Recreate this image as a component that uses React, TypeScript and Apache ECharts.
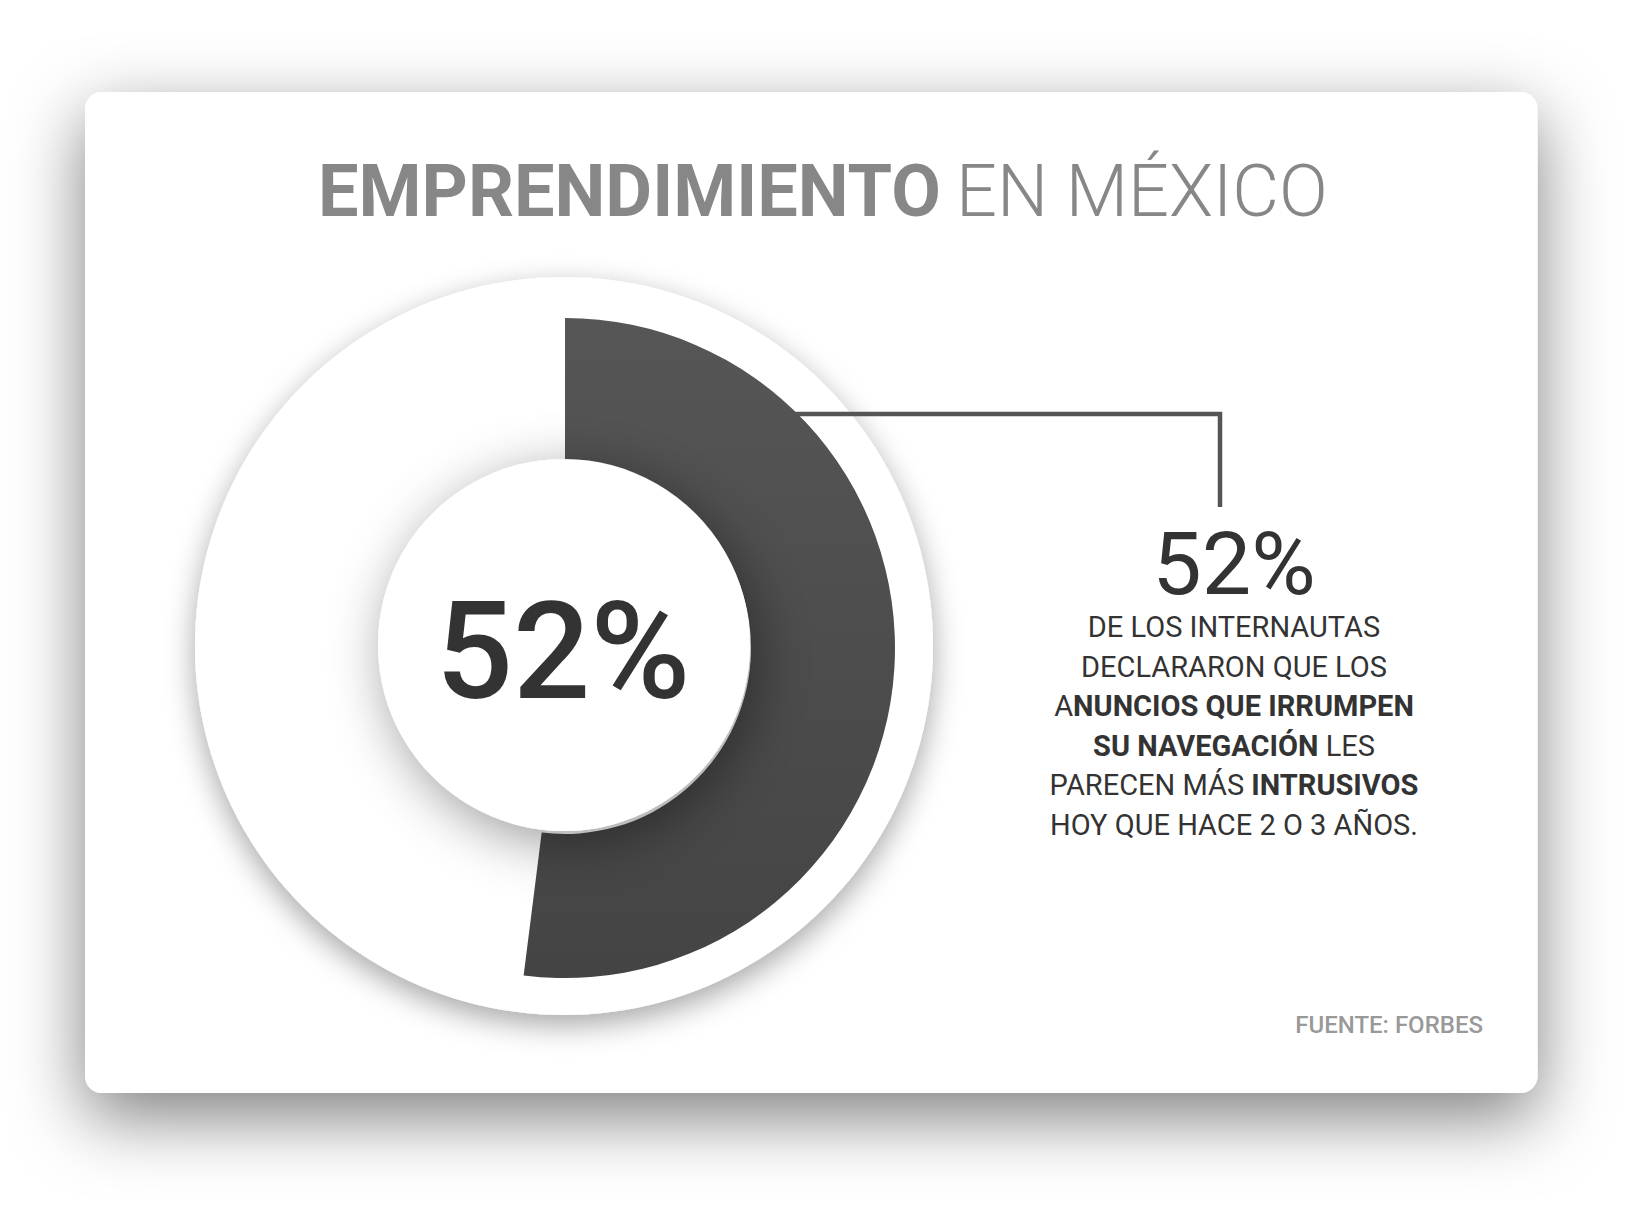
import React, { useEffect, useRef } from "react";
import * as echarts from "echarts";

// ---- data ----
const shareNames = ["Anuncios intrusivos", "Resto"];
const shareValues = [52, 48];
const titleBold = "EMPRENDIMIENTO";
const titleLight = "EN MÉXICO";
const calloutValue = `${shareValues[0]}%`;
const bodyLines: [string, "r" | "b"][][] = [
  [["DE LOS INTERNAUTAS", "r"]],
  [["DECLARARON QUE LOS", "r"]],
  [["A", "r"], ["NUNCIOS QUE IRRUMPEN", "b"]],
  [["SU NAVEGACIÓN", "b"], [" LES", "r"]],
  [["PARECEN MÁS ", "r"], ["INTRUSIVOS", "b"]],
  [["HOY QUE HACE 2 O 3 AÑOS.", "r"]],
];
const sourceText = "FUENTE: FORBES";

const W = 1632;
const H = 1211;
const FONT = "Roboto, 'Noto Sans', sans-serif";

export default function App() {
  const ref = useRef<HTMLDivElement>(null);

  useEffect(() => {
    document.body.style.margin = "0";
    const chart = echarts.init(ref.current!, null, { renderer: "svg" });

    const cx = 565;
    const cy = 647;
    const outerDisc = 369;
    const ringOuter = 330;
    const ringInner = 186;

    const lineY = 414;
    const lineStartX = cx + Math.sqrt(ringOuter * ringOuter - (cy - lineY) * (cy - lineY)) - 4;
    const lineEndX = 1220;
    const lineBottom = 507;

    const textX = 1234;
    const bodyTop = 627;
    const bodyStep = 39.6;

    const bodyRich = {
      r: { fontFamily: FONT, fontSize: 29, lineHeight: 30, fontWeight: 400, fill: "#333" },
      b: { fontFamily: FONT, fontSize: 29, lineHeight: 30, fontWeight: 700, fill: "#333" },
    };

    const graphic: any[] = [
      {
        type: "rect",
        z: 0,
        shape: { x: 85, y: 92, width: 1452.5, height: 1001, r: 17 },
        style: {
          fill: "#fff",
          shadowBlur: 70,
          shadowOffsetY: 24,
          shadowColor: "rgba(0,0,0,0.5)",
        },
        silent: true,
      },
      {
        type: "text",
        z: 20,
        x: 318,
        y: 191,
        style: {
          text: titleBold,
          align: "left",
          verticalAlign: "middle",
          fontFamily: FONT,
          fontSize: 72,
          fontWeight: 700,
          fill: "#878787",
        },
      },
      {
        type: "text",
        z: 20,
        x: 956,
        y: 191,
        style: {
          text: titleLight,
          align: "left",
          verticalAlign: "middle",
          fontFamily: FONT,
          fontSize: 72,
          fontWeight: 300,
          fill: "#878787",
        },
      },
      {
        type: "text",
        z: 20,
        x: cx - 2,
        y: 651,
        style: {
          text: calloutValue,
          align: "center",
          verticalAlign: "middle",
          fontFamily: FONT,
          fontSize: 136,
          fontWeight: 500,
          fill: "#333",
        },
      },
      {
        type: "polyline",
        z: 20,
        shape: {
          points: [
            [lineStartX, lineY],
            [lineEndX, lineY],
            [lineEndX, lineBottom],
          ],
        },
        style: { stroke: "#555", lineWidth: 4.5, fill: null },
      },
      {
        type: "text",
        z: 20,
        x: textX,
        y: 563,
        style: {
          text: calloutValue,
          align: "center",
          verticalAlign: "middle",
          fontFamily: FONT,
          fontSize: 88,
          fontWeight: 400,
          fill: "#333",
        },
      },
      ...bodyLines.map((parts, i) => ({
        type: "text",
        z: 20,
        x: textX,
        y: bodyTop + i * bodyStep,
        style: {
          text: parts.map(([t, k]) => `{${k}|${t}}`).join(""),
          align: "center",
          verticalAlign: "middle",
          rich: bodyRich,
        },
      })),
      {
        type: "text",
        z: 20,
        x: 1483,
        y: 1025,
        style: {
          text: sourceText,
          align: "right",
          verticalAlign: "middle",
          fontFamily: FONT,
          fontSize: 24,
          fontWeight: 500,
          fill: "#999",
        },
      },
    ];

    chart.setOption({
      animation: false,
      backgroundColor: "#fff",
      graphic,
      series: [
        {
          type: "pie",
          z: 5,
          silent: true,
          center: [cx - 1, cy - 1],
          radius: [0, outerDisc],
          label: { show: false },
          labelLine: { show: false },
          data: [
            {
              value: 1,
              name: "base",
              itemStyle: {
                color: "#fff",
                shadowBlur: 30,
                shadowOffsetY: 10,
                shadowColor: "rgba(0,0,0,0.35)",
              },
            },
          ],
        },
        {
          type: "pie",
          z: 6,
          silent: true,
          center: [cx, cy + 1],
          radius: [ringInner, ringOuter],
          startAngle: 90,
          clockwise: true,
          label: { show: false },
          labelLine: { show: false },
          itemStyle: { borderWidth: 0 },
          data: shareValues.map((v, i) => ({
            value: v,
            name: shareNames[i],
            itemStyle:
              i === 0
                ? {
                    color: {
                      type: "linear",
                      x: 0,
                      y: 0,
                      x2: 0,
                      y2: 1,
                      colorStops: [
                        { offset: 0, color: "#565656" },
                        { offset: 1, color: "#444444" },
                      ],
                    },
                  }
                : { color: "rgba(255,255,255,0)" },
          })),
        },
        {
          type: "pie",
          z: 7,
          silent: true,
          center: [cx - 1, cy - 2],
          radius: [0, ringInner],
          label: { show: false },
          labelLine: { show: false },
          data: [
            {
              value: 1,
              name: "centro",
              itemStyle: {
                color: "#fff",
                shadowBlur: 55,
                shadowOffsetX: 8,
                shadowOffsetY: 12,
                shadowColor: "rgba(0,0,0,0.4)",
              },
            },
          ],
        },
      ],
    });

    return () => chart.dispose();
  }, []);

  return (
    <div
      ref={ref}
      style={{ position: "absolute", left: 0, top: 0, width: W, height: H }}
    />
  );
}
